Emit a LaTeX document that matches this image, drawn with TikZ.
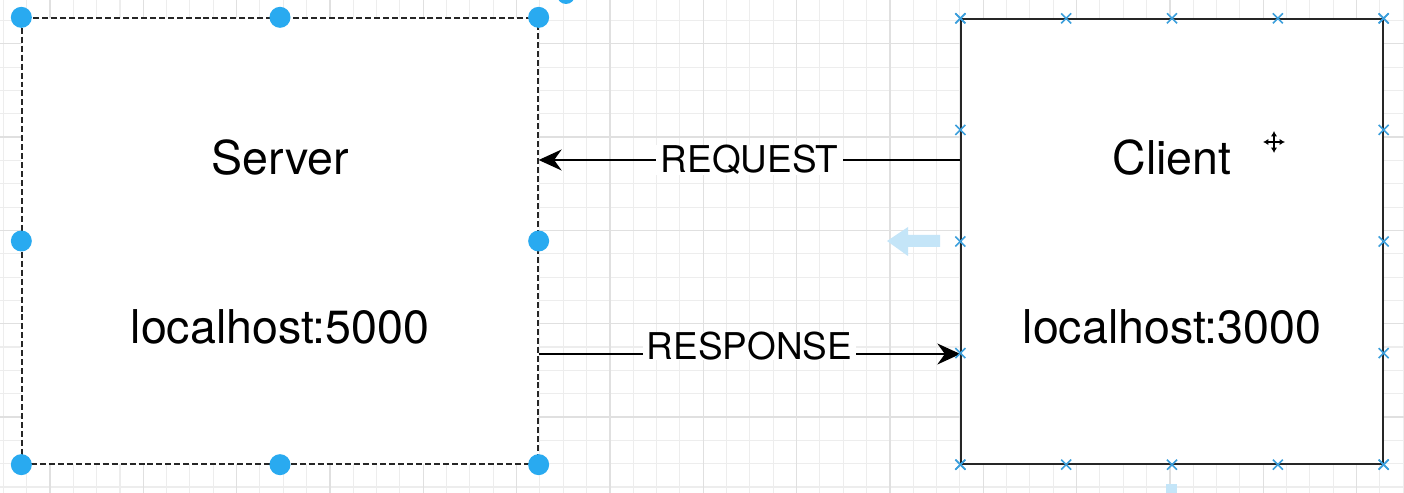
\documentclass[tikz,border=0pt]{standalone}
\usepackage{fontspec}
\setmainfont{TeX Gyre Heros}
\usetikzlibrary{arrows.meta,calc}
\definecolor{handle}{HTML}{29AAF0}
\definecolor{cpoint}{HTML}{3C9FDC}
\definecolor{gridminor}{HTML}{EDEDED}
\definecolor{gridmajor}{HTML}{E0E0E0}
\definecolor{hover}{HTML}{C4E5F8}
\begin{document}
\begin{tikzpicture}[x=0.02cm, y=-0.02cm,
    box/.style={draw=black!85, fill=white, line width=0.8pt, inner sep=0pt},
    title/.style={font=\fontsize{26.5}{30}\selectfont, inner sep=0pt},
    lbl/.style={font=\fontsize{21}{24}\selectfont, fill=white, inner xsep=2.5pt, inner ysep=0pt},
    flow/.style={line width=0.9pt, -{Stealth[length=0.46cm, width=0.42cm, inset=0.15cm]}},
    xmark/.style={draw=cpoint, line width=0.9pt}]
    \useasboundingbox (0,0) rectangle (1404,493);
    \clip (0,0) rectangle (1404,493);
    \fill[white] (0,0) rectangle (1404,493);
    % grid
    \foreach \i in {0,...,60} \draw[gridminor, line width=0.6pt] (3.33+23.33*\i,0) -- ++(0,493);
    \foreach \i in {0,...,20} \draw[gridminor, line width=0.6pt] (0,20.4+23.33*\i) -- ++(1404,0);
    \foreach \i in {0,...,14} \draw[gridmajor, line width=0.7pt] (50+93.33*\i,0) -- ++(0,493);
    \foreach \i in {0,...,5} \draw[gridmajor, line width=0.7pt] (0,43.7+93.33*\i) -- ++(1404,0);

    \node[box, dash pattern=on 3.4pt off 1.7pt, minimum width=10.32cm, minimum height=8.92cm] (server) at (280,241) {};
    \node[box, minimum width=8.44cm, minimum height=8.9cm] (client) at (1172,241.5) {};
    \node[title] (srvname) at (280,158) {Server};
    \node[title] (srvhost) at (280,327) {localhost:5000};
    \node[title] (cltname) at (1172,158) {Client};
    \node[title] (clthost) at (1172,327) {localhost:3000};

    \coordinate (reqy) at (0,160);
    \coordinate (resy) at (0,354);
    \draw[flow] (client.west |- reqy) -- node[lbl] (reqlbl) {REQUEST} (server.east |- reqy);
    \draw[flow] (server.east |- resy) -- node[lbl, yshift=4.5pt] (reslbl) {RESPONSE} (client.west |- resy);

    % selection handles
    \foreach \a in {north west,north,north east,west,east,south west,south,south east}
        \fill[handle] (server.\a) circle (0.21cm);
    \fill[handle] (566,-5) circle (0.18cm);
    % connection points
    \foreach \f in {0,0.25,0.5,0.75,1} {
        \draw[xmark] ($(client.north west)!\f!(client.north east)$) +(-5,-5) -- +(5,5) +(-5,5) -- +(5,-5);
        \draw[xmark] ($(client.south west)!\f!(client.south east)$) +(-5,-5) -- +(5,5) +(-5,5) -- +(5,-5);
        \draw[xmark] ($(client.north west)!\f!(client.south west)$) +(-5,-5) -- +(5,5) +(-5,5) -- +(5,-5);
        \draw[xmark] ($(client.north east)!\f!(client.south east)$) +(-5,-5) -- +(5,5) +(-5,5) -- +(5,-5);
    }
    % hover arrows
    \fill[hover] (887,241) -- (908,227) -- (908,235) -- (940,235) -- (940,247) -- (908,247) -- (908,256) -- cycle;
    \fill[hover] (1166,484) rectangle (1177,493);
    % move cursor
    \draw[white, line width=2.6pt] (1263,142) -- (1285,142) (1274,131) -- (1274,153);
    \draw[line width=0.9pt, {Latex[length=3pt,width=3.5pt]}-{Latex[length=3pt,width=3.5pt]}] (1263,142) -- (1285,142);
    \draw[line width=0.9pt, {Latex[length=3pt,width=3.5pt]}-{Latex[length=3pt,width=3.5pt]}] (1274,131) -- (1274,153);
\end{tikzpicture}
\end{document}
